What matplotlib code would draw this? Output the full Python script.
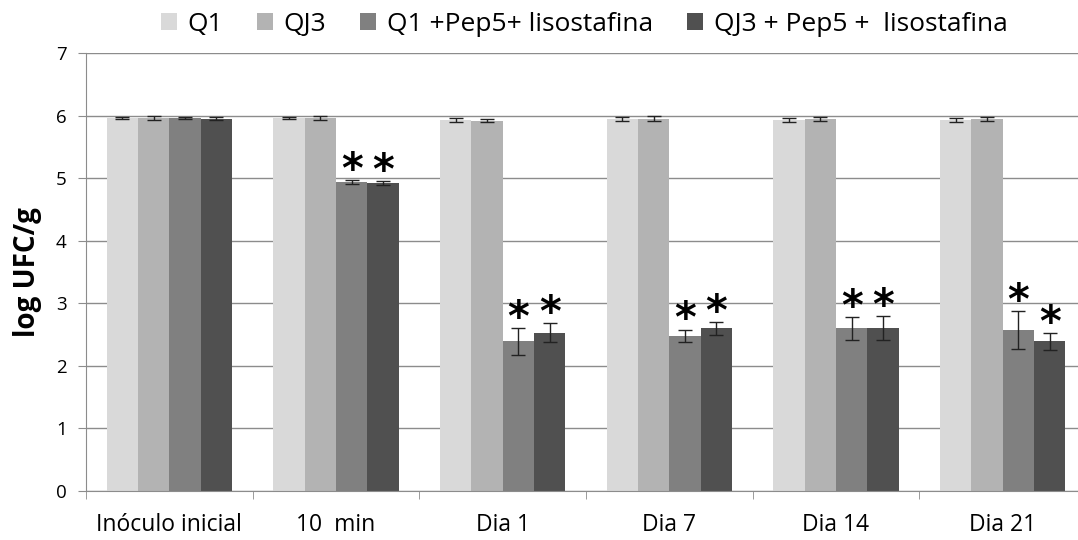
import matplotlib
matplotlib.use("Agg")
import matplotlib.pyplot as plt
import numpy as np

plt.rcParams['font.family'] = ['Open Sans', 'DejaVu Sans']

categories = ["Inóculo inicial", "10  min", "Dia 1", "Dia 7", "Dia 14", "Dia 21"]
series_names = ["Q1", "QJ3", "Q1 +Pep5+ lisostafina", "QJ3 + Pep5 +  lisostafina"]
q1 = [5.96, 5.96, 5.93, 5.94, 5.93, 5.93]
qj3 = [5.96, 5.96, 5.92, 5.95, 5.94, 5.94]
q1_pep = [5.96, 4.94, 2.39, 2.48, 2.60, 2.57]
qj3_pep = [5.95, 4.92, 2.53, 2.60, 2.60, 2.39]
q1_err = [0.02, 0.02, 0.03, 0.03, 0.03, 0.03]
qj3_err = [0.03, 0.03, 0.03, 0.04, 0.03, 0.03]
q1_pep_err = [0.02, 0.03, 0.21, 0.10, 0.18, 0.30]
qj3_pep_err = [0.02, 0.03, 0.15, 0.10, 0.19, 0.13]
# significance markers (per group, per pep series)
q1_pep_sig = [False, True, True, True, True, True]
qj3_pep_sig = [False, True, True, True, True, True]

values = [q1, qj3, q1_pep, qj3_pep]
errors = [q1_err, qj3_err, q1_pep_err, qj3_pep_err]
sigs = [None, None, q1_pep_sig, qj3_pep_sig]
colors = ["#d9d9d9", "#b3b3b3", "#808080", "#505050"]

fig = plt.figure(figsize=(10.78, 5.40), dpi=100)
W, H = 1078, 540
ax = fig.add_axes([86 / W, 49 / H, 1000 / W, 438 / H])

x = np.arange(len(categories))
bw = 0.188
offsets = (np.arange(4) - 1.5) * bw
for i in range(4):
    ax.bar(x + offsets[i], values[i], width=bw, color=colors[i], label=series_names[i],
           zorder=2, linewidth=0)
    ax.errorbar(x + offsets[i], values[i], yerr=errors[i], fmt='none', ecolor='#222222',
                elinewidth=1, capsize=5, capthick=1, zorder=3)
    if sigs[i] is not None:
        for j in range(len(categories)):
            if sigs[i][j]:
                ax.text(x[j] + offsets[i], values[i][j] + errors[i][j] - 0.19, "*",
                        ha='center', va='bottom', fontsize=30, fontweight='bold',
                        family='DejaVu Sans', color='black', zorder=4)

ax.set_xlim(-0.5, 5.5)
ax.set_ylim(0, 7)
ax.set_yticks(range(0, 8))
ax.yaxis.grid(True, color='#8c8c8c', linewidth=1, zorder=0)
ax.set_axisbelow(True)
for s in ['top', 'right']:
    ax.spines[s].set_visible(False)
ax.spines['left'].set_color('#8c8c8c')
ax.spines['bottom'].set_color('#8c8c8c')

ax.set_xticks(x)
ax.set_xticklabels(categories, fontsize=16.5)
ax.tick_params(axis='x', length=0, pad=16)
ax.set_xticks(np.arange(-0.5, 6.0, 1.0), minor=True)
ax.tick_params(axis='x', which='minor', length=6, color='#8c8c8c')
ax.tick_params(axis='y', length=6, color='#8c8c8c', labelsize=13.5, pad=8)
ax.set_ylabel("log UFC/g", fontsize=20, fontweight='bold', labelpad=10)

ax.legend(loc='upper center', bbox_to_anchor=(0.498, 1 + 52 / 438),
          ncol=4, frameon=False, fontsize=19, handlelength=0.6, handleheight=0.6,
          handletextpad=0.4, columnspacing=1.3, borderaxespad=0)

fig.savefig("out.png", dpi=100)
